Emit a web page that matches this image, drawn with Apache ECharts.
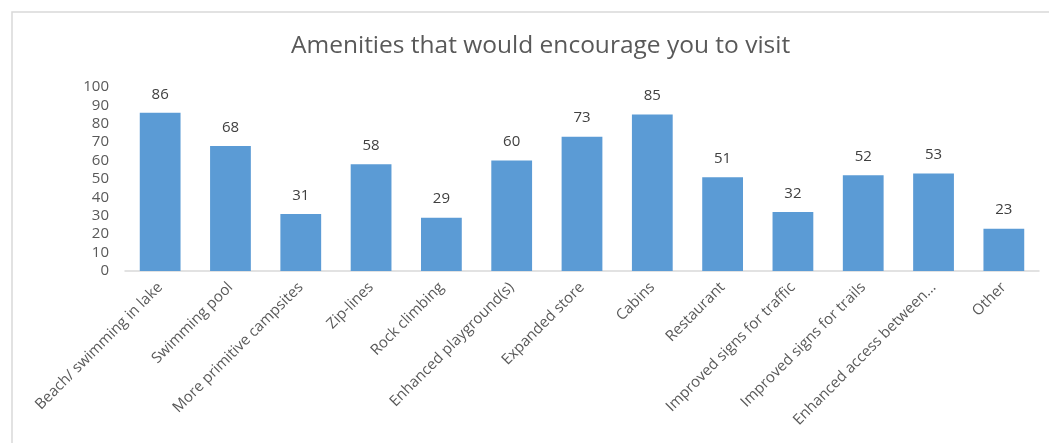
<!DOCTYPE html>
<html><head><meta charset="utf-8">
<script src="https://cdn.jsdelivr.net/npm/echarts@6/dist/echarts.min.js"></script>
<style>html,body{margin:0;padding:0;background:#fff;}#c{width:1049px;height:443px;}</style>
</head><body><div id="c"></div>
<script>
const categories = ["Beach/ swimming in lake","Swimming pool","More primitive campsites","Zip-lines","Rock climbing","Enhanced playground(s)","Expanded store","Cabins","Restaurant","Improved signs for traffic","Improved signs for trails","Enhanced access between...","Other"];
const values = [86,68,31,58,29,60,73,85,51,32,52,53,23];
const titleText = "Amenities that would encourage you to visit";
const font = "Open Sans";
const chart = echarts.init(document.getElementById('c'));
chart.setOption({
  animation:false,
  graphic:[{type:'rect',shape:{x:12,y:12,width:1060,height:460},style:{fill:'none',stroke:'#d9d9d9',lineWidth:1.5},silent:true}],
  title:{text:titleText,left:286,top:29,textStyle:{fontFamily:font,fontSize:24.5,fontWeight:'normal',color:'#595959'}},
  grid:{left:125,right:10,top:87,bottom:172,containLabel:false},
  xAxis:{type:'category',data:categories,axisTick:{show:false},
    axisLine:{lineStyle:{color:'#d9d9d9',width:1.5}},
    axisLabel:{rotate:45,interval:0,color:'#595959',fontFamily:font,fontSize:15,margin:14}},
  yAxis:{type:'value',min:0,max:100,interval:10,splitLine:{show:false},axisLine:{show:false},axisTick:{show:false},
    axisLabel:{color:'#595959',fontFamily:font,fontSize:15,margin:16}},
  series:[{type:'bar',data:values,barCategoryGap:'42%',itemStyle:{color:'#5b9bd5'},
    label:{show:true,position:'top',distance:11,color:'#404040',fontFamily:font,fontSize:15}}]
});
</script></body></html>
